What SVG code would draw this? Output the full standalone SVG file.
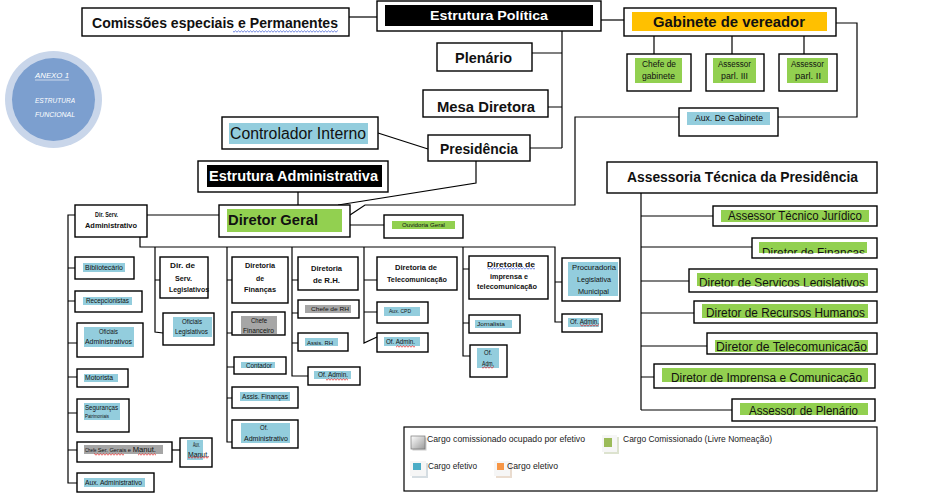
<svg xmlns="http://www.w3.org/2000/svg" width="928" height="502" viewBox="0 0 928 502">
<defs>
<style>
.bx{fill:#fff;stroke:#000;stroke-width:1.4}
.ln{fill:none;stroke:#000;stroke-width:1.2}
.g{fill:#92D050}
.c{fill:#93CDDD}
.gr{fill:#A6A6A6}
.k{fill:#000}
text{font-family:"Liberation Sans",Arial,sans-serif;fill:#111}
.B{font-weight:bold}
.W{fill:#fff}
.s7{font-size:7px}
.s8{font-size:8px}
.s9{font-size:9px}
.s12{font-size:12.5px}
.lg{font-size:9.5px;fill:#222}
</style>
<pattern id="wr" patternUnits="userSpaceOnUse" width="3" height="3"><path d="M0 2.2 L1.5 0.8 L3 2.2" stroke="#e01010" stroke-width="0.7" fill="none"/></pattern>
<pattern id="wb" patternUnits="userSpaceOnUse" width="3" height="3"><path d="M0 2.2 L1.5 0.8 L3 2.2" stroke="#3050d0" stroke-width="0.7" fill="none"/></pattern>
<linearGradient id="gg" x1="0" y1="0" x2="1" y2="1"><stop offset="0" stop-color="#fff"/><stop offset="1" stop-color="#9a9a9a"/></linearGradient>
<clipPath id="cf"><rect x="752" y="238" width="125" height="15.5"/></clipPath>
<clipPath id="cs"><rect x="689" y="269" width="188" height="17.5"/></clipPath>
<clipPath id="ct"><rect x="707" y="333" width="170" height="19"/></clipPath>
<clipPath id="ci"><rect x="654" y="364" width="221" height="18.5"/></clipPath>
<clipPath id="cp"><rect x="732" y="399" width="143" height="16"/></clipPath>
</defs>
<rect width="928" height="502" fill="#fff"/>

<g id="connectors">
<path class="ln" d="M349,17 H377"/>
<path class="ln" d="M601,20 H624"/>
<path class="ln" d="M562,31 V148 M532,53 H562 M548,107 H562 M530,148 H562"/>
<path class="ln" d="M378,133 L428,149"/>
<path class="ln" d="M476,161 V183 L338,205"/>
<path class="ln" d="M836,23 H857 V117 H778"/>
<path class="ln" d="M679,117 H575 V205 H365 L350,215"/>
<path class="ln" d="M654,36 V54 M732,36 V54 M804,36 V54"/>
<path class="ln" d="M298,192 V205"/>
<path class="ln" d="M219,215 H147"/>
<path class="ln" d="M350,225 H384"/>
<path class="ln" d="M641,193 V410 M641,216 H713 M641,247 H752 M641,281 H689 M641,313 H694 M641,346 H707 M641,377 H654 M641,410 H732"/>
<path class="ln" d="M75,215 H68 V483 H77 M68,268 H75 M68,301 H75 M68,343 H77 M68,377 H77 M68,413 H77 M68,450 H77"/>
<path class="ln" d="M172,450 H180"/>
<path class="ln" d="M140,237 V247 H555 V322 H562 M555,282 H562"/>
<path class="ln" d="M155,247 V332 L163,333 M155,280 H160"/>
<path class="ln" d="M227,247 V442 H232 M227,280 H232 M227,333 H232 M227,367 H234 M227,398 H232"/>
<path class="ln" d="M292,247 V376 H308 M292,280 H298 M292,313 H298 M292,343 H298"/>
<path class="ln" d="M364,247 V343 L377,337 M364,280 H377 M364,312 H377"/>
<path class="ln" d="M463,247 V356 H470 M463,269 H469 M463,323 H469"/>
</g>

<g id="anexo">
<circle cx="53.5" cy="99.5" r="48.5" fill="#C9D6EA"/>
<circle cx="53.5" cy="99.5" r="41.5" fill="#7C9FCF"/>
<text class="W" x="35" y="78" font-size="8" font-style="italic" textLength="34" lengthAdjust="spacingAndGlyphs">ANEXO 1</text>
<path d="M35,80 H69" stroke="#fff" stroke-width="0.6"/>
<text class="W" x="35" y="103" font-size="8" font-style="italic" textLength="40" lengthAdjust="spacingAndGlyphs">ESTRUTURA</text>
<text class="W" x="35" y="117" font-size="8" font-style="italic" textLength="40" lengthAdjust="spacingAndGlyphs">FUNCIONAL</text>
</g>

<g id="comissoes">
<rect class="bx" x="82" y="8" width="267" height="28"/>
<text class="B" x="92" y="28" font-size="15" textLength="246" lengthAdjust="spacingAndGlyphs">Comissões especiais e Permanentes</text>
<rect x="233" y="30" width="105" height="3" fill="url(#wb)"/>
</g>

<g id="estrutura-politica">
<rect class="bx" x="377" y="1" width="224" height="30"/>
<rect class="k" x="385" y="5" width="208" height="21"/>
<text class="B W" x="430" y="20" font-size="13.5" textLength="118" lengthAdjust="spacingAndGlyphs">Estrutura Política</text>
</g>

<g id="plenario">
<rect class="bx" x="437" y="43" width="95" height="28"/>
<text class="B" x="455" y="63" font-size="14" textLength="57" lengthAdjust="spacingAndGlyphs">Plenário</text>
</g>

<g id="mesa-diretora">
<rect class="bx" x="423" y="90" width="125" height="27"/>
<text class="B" x="437" y="112" font-size="14" textLength="98" lengthAdjust="spacingAndGlyphs">Mesa Diretora</text>
</g>

<g id="presidencia">
<rect class="bx" x="428" y="135" width="102" height="26"/>
<text class="B" x="440" y="154" font-size="14" textLength="78" lengthAdjust="spacingAndGlyphs">Presidência</text>
</g>

<g id="controlador">
<rect class="bx" x="222" y="117" width="156" height="32"/>
<rect class="c" x="229" y="123" width="139" height="21"/>
<text x="230" y="139" font-size="16" textLength="136" lengthAdjust="spacingAndGlyphs">Controlador Interno</text>
</g>

<g id="gabinete">
<rect class="bx" x="624" y="8" width="212" height="28"/>
<rect x="632" y="12" width="195" height="19" fill="#FFC000"/>
<text class="B" x="653" y="27" font-size="15" textLength="152" lengthAdjust="spacingAndGlyphs">Gabinete de vereador</text>
</g>

<g id="chefe-gabinete">
<rect class="bx" x="627" y="54" width="64" height="37"/>
<rect class="g" x="635" y="58" width="47" height="25"/>
<text x="642" y="67" font-size="8.5" textLength="34" lengthAdjust="spacingAndGlyphs">Chefe de</text>
<text x="642" y="79" font-size="8.5" textLength="33" lengthAdjust="spacingAndGlyphs">gabinete</text>
</g>

<g id="assessor-parl-3">
<rect class="bx" x="706" y="54" width="58" height="37"/>
<rect class="g" x="713" y="58" width="43" height="25"/>
<text x="718" y="67" font-size="8.5" textLength="33" lengthAdjust="spacingAndGlyphs">Assessor</text>
<text x="721" y="79" font-size="8.5" textLength="27" lengthAdjust="spacingAndGlyphs">parl. III</text>
</g>

<g id="assessor-parl-2">
<rect class="bx" x="779" y="54" width="58" height="37"/>
<rect class="g" x="787" y="58" width="41" height="25"/>
<text x="791" y="67" font-size="8.5" textLength="33" lengthAdjust="spacingAndGlyphs">Assessor</text>
<text x="795" y="79" font-size="8.5" textLength="26" lengthAdjust="spacingAndGlyphs">parl. II</text>
</g>

<g id="aux-gabinete">
<rect class="bx" x="679" y="108" width="99" height="28"/>
<rect class="c" x="687" y="112" width="83" height="13"/>
<text x="695" y="121" font-size="8.5" textLength="68" lengthAdjust="spacingAndGlyphs">Aux. De Gabinete</text>
</g>

<g id="estrutura-administrativa">
<rect class="bx" x="198" y="161" width="190" height="31"/>
<rect class="k" x="207" y="165" width="175" height="22"/>
<text class="B W" x="209" y="181" font-size="14" textLength="169" lengthAdjust="spacingAndGlyphs">Estrutura Administrativa</text>
</g>

<g id="diretor-geral">
<rect class="bx" x="219" y="205" width="131" height="32"/>
<rect class="g" x="227" y="209" width="115" height="23"/>
<text class="B" x="228" y="225" font-size="15.5" textLength="90" lengthAdjust="spacingAndGlyphs">Diretor Geral</text>
</g>

<g id="ouvidoria">
<rect class="bx" x="384" y="215" width="79" height="23"/>
<rect class="g" x="392" y="221" width="63" height="8"/>
<text x="402" y="227" font-size="5.5" textLength="43" lengthAdjust="spacingAndGlyphs">Ouvidoria Geral</text>
</g>

<g id="assessoria-tecnica">
<rect class="bx" x="607" y="162" width="270" height="31"/>
<text class="B" x="627" y="182" font-size="14.5" textLength="231" lengthAdjust="spacingAndGlyphs">Assessoria Técnica da Presidência</text>
</g>

<g id="assessor-juridico">
<rect class="bx" x="713" y="206" width="164" height="20"/>
<rect class="g" x="721" y="210" width="148" height="12"/>
<text class="s12" x="728" y="220" textLength="134" lengthAdjust="spacingAndGlyphs">Assessor Técnico Jurídico</text>
</g>

<g id="diretor-financas">
<rect class="bx" x="752" y="238" width="125" height="20"/>
<rect class="g" x="759" y="242" width="108" height="11"/>
<text class="s12" x="762" y="256.5" clip-path="url(#cf)" textLength="103" lengthAdjust="spacingAndGlyphs">Diretor de Finanças</text>
</g>

<g id="diretor-servicos">
<rect class="bx" x="689" y="269" width="188" height="23"/>
<rect class="g" x="697" y="273" width="171" height="13"/>
<text class="s12" x="699" y="287" clip-path="url(#cs)" textLength="166" lengthAdjust="spacingAndGlyphs">Diretor de Serviços Legislativos</text>
</g>

<g id="diretor-rh">
<rect class="bx" x="694" y="301" width="183" height="22"/>
<rect class="g" x="702" y="304" width="166" height="14"/>
<text class="s12" x="706" y="317" textLength="159" lengthAdjust="spacingAndGlyphs">Diretor de Recursos Humanos</text>
</g>

<g id="diretor-telecom">
<rect class="bx" x="707" y="333" width="170" height="21"/>
<rect class="g" x="715" y="340" width="153" height="12"/>
<text class="s12" x="716" y="351" clip-path="url(#ct)" textLength="151" lengthAdjust="spacingAndGlyphs">Diretor de Telecomunicação</text>
</g>

<g id="diretor-imprensa">
<rect class="bx" x="654" y="364" width="221" height="24"/>
<rect class="g" x="662" y="368" width="206" height="14"/>
<text class="s12" x="671" y="382" clip-path="url(#ci)" textLength="191" lengthAdjust="spacingAndGlyphs">Diretor de Imprensa e Comunicação</text>
</g>

<g id="assessor-plenario">
<rect class="bx" x="732" y="399" width="143" height="22"/>
<rect class="g" x="740" y="403" width="128" height="12"/>
<text class="s12" x="749" y="415" clip-path="url(#cp)" textLength="109" lengthAdjust="spacingAndGlyphs">Assessor de Plenário</text>
</g>

<g id="dir-serv-adm">
<rect class="bx" x="75" y="205" width="72" height="32"/>
<text class="B s7" x="95" y="217" textLength="23" lengthAdjust="spacingAndGlyphs">Dir. Serv.</text>
<text class="B s7" x="85" y="228" textLength="52" lengthAdjust="spacingAndGlyphs">Administrativo</text>
</g>

<g id="bibliotecario">
<rect class="bx" x="75" y="257" width="59" height="22"/>
<rect class="c" x="83" y="263" width="42" height="9"/>
<text class="s7" x="85" y="270" textLength="38" lengthAdjust="spacingAndGlyphs">Bibliotecário</text>
</g>

<g id="recepcionistas">
<rect class="bx" x="75" y="291" width="67" height="21"/>
<rect class="c" x="83" y="297" width="49" height="8"/>
<text class="s7" x="86" y="303" textLength="43" lengthAdjust="spacingAndGlyphs">Recepcionistas</text>
</g>

<g id="oficiais-adm">
<rect class="bx" x="77" y="323" width="66" height="34"/>
<rect class="c" x="84" y="327" width="50" height="20"/>
<text class="s7" x="99" y="334" textLength="19" lengthAdjust="spacingAndGlyphs">Oficiais</text>
<text class="s7" x="85" y="344" textLength="47" lengthAdjust="spacingAndGlyphs">Administrativos</text>
</g>

<g id="motorista">
<rect class="bx" x="77" y="369" width="51" height="18"/>
<rect class="c" x="84" y="374" width="34" height="8"/>
<text class="s7" x="85" y="380" textLength="28" lengthAdjust="spacingAndGlyphs">Motorista</text>
</g>

<g id="segurancas">
<rect class="bx" x="77" y="399" width="52" height="33"/>
<rect class="c" x="84" y="403" width="36" height="17"/>
<text class="s7" x="85" y="410" textLength="33" lengthAdjust="spacingAndGlyphs">Seguranças</text>
<text x="85" y="418" font-size="5.5" textLength="24" lengthAdjust="spacingAndGlyphs">Patrimoniais</text>
</g>

<g id="chefe-servicos">
<rect class="bx" x="77" y="442" width="95" height="20"/>
<rect class="gr" x="84" y="445" width="79" height="9"/>
<text x="85" y="452" textLength="71" lengthAdjust="spacingAndGlyphs"><tspan font-size="4.5">Chefe </tspan><tspan font-size="6">Ser. Gerais e </tspan><tspan font-size="8">Manut.</tspan></text>
<rect x="94" y="453" width="30" height="3" fill="url(#wr)"/>
<rect x="138" y="453" width="18" height="3" fill="url(#wr)"/>
</g>

<g id="aux-manut">
<rect class="bx" x="180" y="438" width="32" height="29"/>
<rect class="c" x="187" y="440" width="16" height="20"/>
<text class="s7" x="193" y="447" textLength="7" lengthAdjust="spacingAndGlyphs">Aux.</text>
<text class="s7" x="188" y="457" textLength="21" lengthAdjust="spacingAndGlyphs">Manut.</text>
<rect x="188" y="456" width="21" height="3" fill="url(#wr)"/>
</g>

<g id="aux-administrativo">
<rect class="bx" x="77" y="473" width="77" height="19"/>
<rect class="c" x="84" y="478" width="61" height="9"/>
<text class="s7" x="85" y="485" textLength="57" lengthAdjust="spacingAndGlyphs">Aux. Administrativo</text>
</g>

<g id="dir-serv-legislativos">
<rect class="bx" x="160" y="257" width="48" height="41"/>
<text class="B s7" x="170" y="268" textLength="25" lengthAdjust="spacingAndGlyphs">Dir. de</text>
<text class="B s7" x="175" y="281" textLength="17" lengthAdjust="spacingAndGlyphs">Serv.</text>
<text class="B s7" x="169" y="292" textLength="40" lengthAdjust="spacingAndGlyphs">Legislativos</text>
</g>

<g id="oficiais-legislativos">
<rect class="bx" x="163" y="313" width="51" height="32"/>
<rect class="c" x="173" y="317" width="39" height="20"/>
<text class="s7" x="182" y="324" textLength="20" lengthAdjust="spacingAndGlyphs">Oficiais</text>
<text class="s7" x="175" y="334" textLength="33" lengthAdjust="spacingAndGlyphs">Legislativos</text>
</g>

<g id="diretoria-financas">
<rect class="bx" x="232" y="257" width="56" height="46"/>
<text class="B s7" x="245" y="268" textLength="30" lengthAdjust="spacingAndGlyphs">Diretoria</text>
<text class="B s7" x="256" y="281" textLength="8" lengthAdjust="spacingAndGlyphs">de</text>
<text class="B s7" x="244" y="292" textLength="32" lengthAdjust="spacingAndGlyphs">Finanças</text>
</g>

<g id="chefe-financeiro">
<rect class="bx" x="232" y="312" width="53" height="23"/>
<rect class="gr" x="241" y="316" width="36" height="18"/>
<text class="s7" x="251" y="323" textLength="16" lengthAdjust="spacingAndGlyphs">Chefe</text>
<text class="s7" x="243" y="333" textLength="31" lengthAdjust="spacingAndGlyphs">Financeiro</text>
</g>

<g id="contador">
<rect class="bx" x="234" y="357" width="52" height="17"/>
<rect class="c" x="241" y="362" width="34" height="6"/>
<text class="s7" x="246" y="368" textLength="26" lengthAdjust="spacingAndGlyphs">Contador</text>
</g>

<g id="assis-financas">
<rect class="bx" x="232" y="387" width="66" height="21"/>
<rect class="c" x="240" y="392" width="50" height="9"/>
<text class="s7" x="242" y="399" textLength="46" lengthAdjust="spacingAndGlyphs">Assis. Finanças</text>
</g>

<g id="of-administrativo">
<rect class="bx" x="232" y="420" width="66" height="28"/>
<rect class="c" x="241" y="423" width="49" height="20"/>
<text class="s7" x="260" y="430" textLength="8" lengthAdjust="spacingAndGlyphs">Of.</text>
<text class="s7" x="244" y="441" textLength="44" lengthAdjust="spacingAndGlyphs">Administrativo</text>
</g>

<g id="diretoria-rh">
<rect class="bx" x="298" y="257" width="60" height="33"/>
<text class="B s7" x="311" y="271" textLength="31" lengthAdjust="spacingAndGlyphs">Diretoria</text>
<text class="B s7" x="313" y="283" textLength="27" lengthAdjust="spacingAndGlyphs">de R.H.</text>
</g>

<g id="chefe-rh">
<rect class="bx" x="298" y="300" width="61" height="18"/>
<rect class="gr" x="305" y="305" width="46" height="8"/>
<text x="311" y="311" font-size="6" textLength="38" lengthAdjust="spacingAndGlyphs">Chefe de RH</text>
</g>

<g id="assis-rh">
<rect class="bx" x="298" y="333" width="50" height="18"/>
<rect class="c" x="305" y="338" width="33" height="8"/>
<text x="307" y="345" font-size="6" textLength="26" lengthAdjust="spacingAndGlyphs">Assis. RH</text>
</g>

<g id="of-admin-rh">
<rect class="bx" x="308" y="367" width="52" height="18"/>
<rect class="c" x="314" y="371" width="37" height="8"/>
<text class="s7" x="318" y="377" textLength="30" lengthAdjust="spacingAndGlyphs">Of. Admin.</text>
<rect x="326" y="378" width="22" height="3" fill="url(#wr)"/>
</g>

<g id="diretoria-telecom">
<rect class="bx" x="377" y="257" width="80" height="33"/>
<text class="B s7" x="395" y="270" textLength="42" lengthAdjust="spacingAndGlyphs">Diretoria de</text>
<text class="B s7" x="387" y="282" textLength="60" lengthAdjust="spacingAndGlyphs">Telecomunicação</text>
</g>

<g id="aux-cpd">
<rect class="bx" x="377" y="302" width="51" height="21"/>
<rect class="c" x="384" y="307" width="36" height="9"/>
<text x="389" y="313" font-size="6" textLength="22" lengthAdjust="spacingAndGlyphs">Aux. CPD</text>
</g>

<g id="of-admin-telecom">
<rect class="bx" x="377" y="333" width="51" height="19"/>
<rect class="c" x="384" y="337" width="36" height="9"/>
<text class="s7" x="386" y="344" textLength="29" lengthAdjust="spacingAndGlyphs">Of. Admin.</text>
<rect x="396" y="345" width="19" height="3" fill="url(#wr)"/>
</g>

<g id="diretoria-imprensa">
<rect class="bx" x="469" y="256" width="79" height="43"/>
<text class="B s7" x="487" y="267" textLength="48" lengthAdjust="spacingAndGlyphs">Diretoria  de</text>
<rect x="487" y="267" width="48" height="3" fill="url(#wb)"/>
<text class="B s7" x="490" y="279" textLength="38" lengthAdjust="spacingAndGlyphs">imprensa e</text>
<text class="B s7" x="477" y="289" textLength="60" lengthAdjust="spacingAndGlyphs">telecomunicação</text>
</g>

<g id="jornalista">
<rect class="bx" x="469" y="315" width="51" height="18"/>
<rect class="c" x="475" y="320" width="37" height="8"/>
<text x="477" y="326" font-size="6" textLength="28" lengthAdjust="spacingAndGlyphs">Jornalista</text>
</g>

<g id="of-adm-imprensa">
<rect class="bx" x="470" y="345" width="37" height="32"/>
<rect class="c" x="477" y="348" width="22" height="20"/>
<text class="s7" x="484" y="355" textLength="8" lengthAdjust="spacingAndGlyphs">Of.</text>
<text class="s7" x="482" y="366" textLength="12" lengthAdjust="spacingAndGlyphs">Adm.</text>
<rect x="482" y="366" width="12" height="3" fill="url(#wr)"/>
</g>

<g id="procuradoria">
<rect class="bx" x="562" y="258" width="58" height="43"/>
<rect class="c" x="568" y="262" width="50" height="34"/>
<text class="s7" x="572" y="270" textLength="44" lengthAdjust="spacingAndGlyphs">Procuradoria</text>
<text class="s7" x="577" y="282" textLength="34" lengthAdjust="spacingAndGlyphs">Legislativa</text>
<text class="s7" x="578" y="294" textLength="31" lengthAdjust="spacingAndGlyphs">Municipal</text>
</g>

<g id="of-admin-procuradoria">
<rect class="bx" x="562" y="314" width="40" height="18"/>
<rect class="c" x="568" y="318" width="31" height="9"/>
<text class="s7" x="570" y="324" textLength="29" lengthAdjust="spacingAndGlyphs">Of. Admin.</text>
<rect x="580" y="324" width="19" height="3" fill="url(#wr)"/>
</g>

<g id="legenda">
<rect x="404" y="427" width="473" height="64" fill="#fff" stroke="#000" stroke-width="1.2"/>
<rect x="412.5" y="437.5" width="14" height="13" fill="#ccc"/>
<rect x="411" y="436" width="14" height="13" fill="url(#gg)" stroke="#777" stroke-width="0.7"/>
<text class="lg" x="427" y="442" textLength="158" lengthAdjust="spacingAndGlyphs">Cargo comissionado ocupado por efetivo</text>
<rect x="604" y="437" width="15" height="17" fill="#dde3cf"/>
<rect x="602" y="435" width="15" height="17" fill="#f6f6f6"/>
<rect x="604" y="438" width="8" height="9" fill="#9BBB59"/>
<text class="lg" x="623" y="442" textLength="149" lengthAdjust="spacingAndGlyphs">Cargo Comissionado (Livre Nomeação)</text>
<rect x="412" y="463" width="16" height="15" fill="#d5dde2"/>
<rect x="410" y="461" width="16" height="15" fill="#f6f6f6"/>
<rect x="413" y="463" width="8" height="7" fill="#4BACC6"/>
<text class="lg" x="428" y="469" textLength="49" lengthAdjust="spacingAndGlyphs">Cargo efetivo</text>
<rect x="496" y="463" width="16" height="15" fill="#eadccf"/>
<rect x="494" y="461" width="16" height="15" fill="#f6f6f6"/>
<rect x="497" y="463" width="7" height="7" fill="#F79646"/>
<text class="lg" x="507" y="469" textLength="51" lengthAdjust="spacingAndGlyphs">Cargo eletivo</text>
</g>
</svg>
